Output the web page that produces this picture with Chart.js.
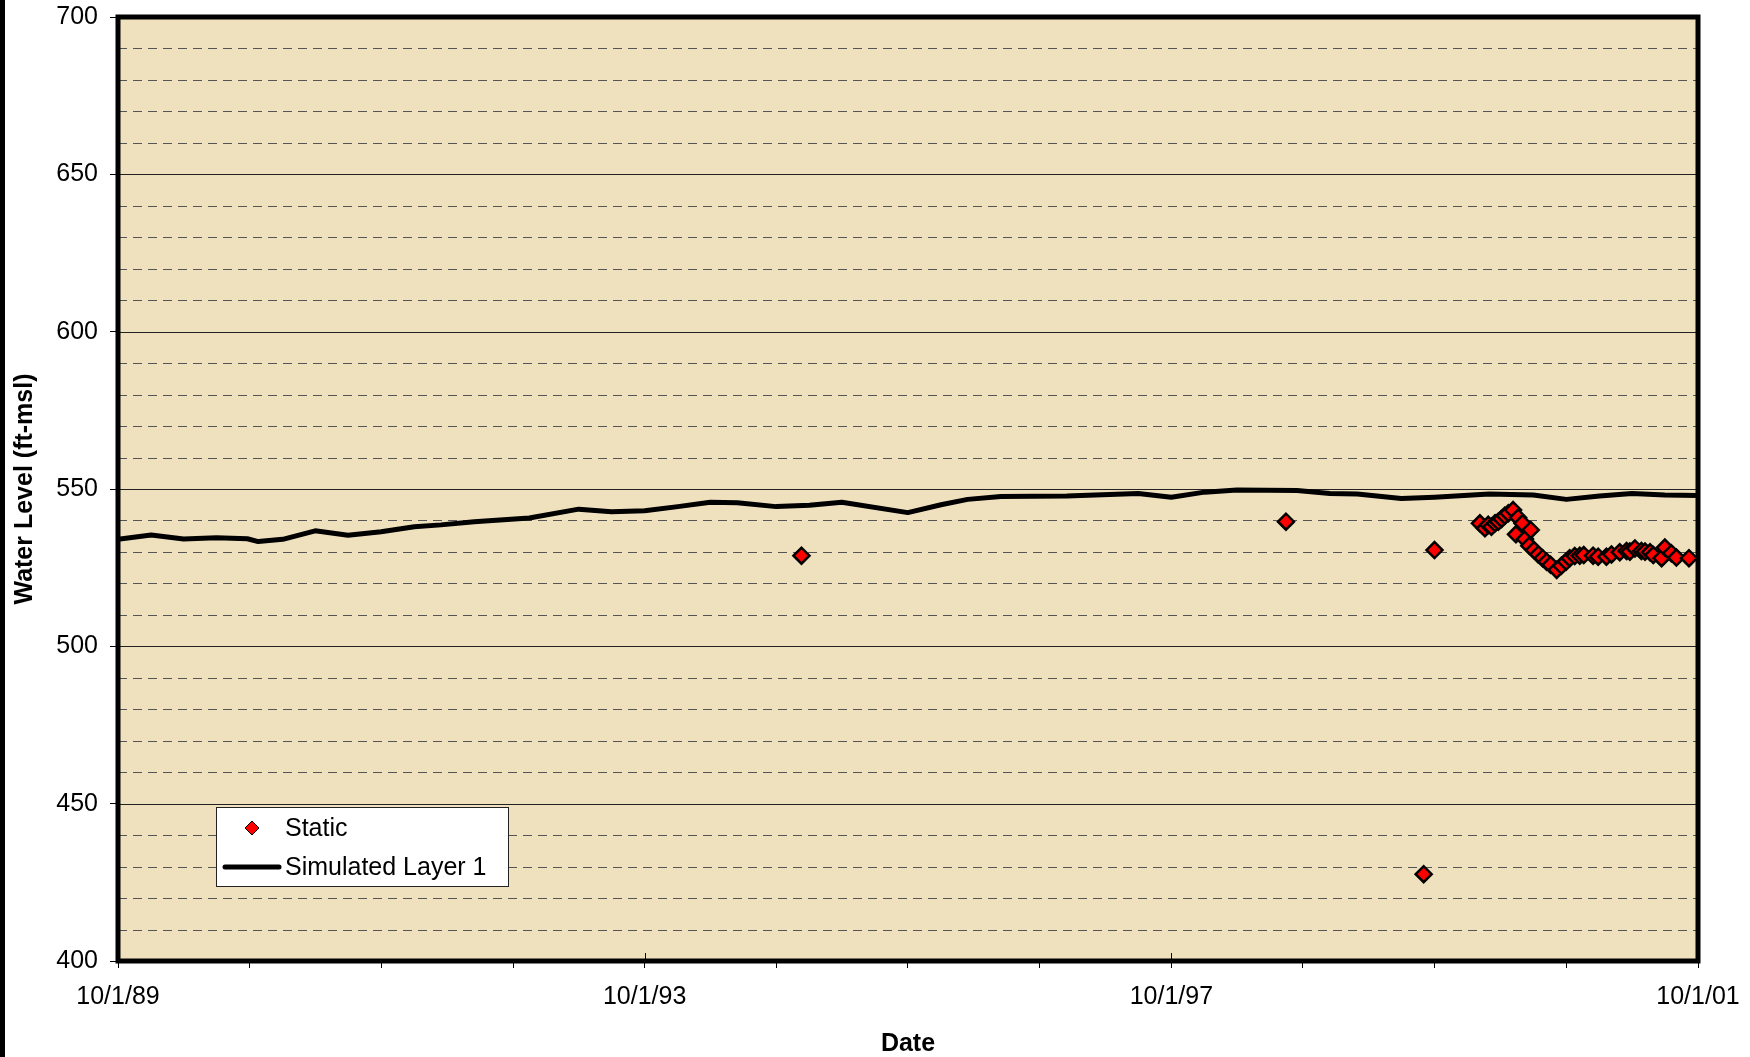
<!DOCTYPE html>
<html>
<head>
<meta charset="utf-8">
<title>Water Level</title>
<script src="https://cdn.jsdelivr.net/npm/chart.js@4.4.1/dist/chart.umd.min.js"></script>
<style>
  html, body { margin: 0; padding: 0; background: #fff; }
  #wrap { width: 1750px; height: 1057px; }
</style>
</head>
<body>
<div id="wrap"><canvas id="myChart" width="1750" height="1057"></canvas></div>
<script>
'use strict';

// DATA - SIMULATED LAYER 1
var simDates = ['1989-10-01', '1990-01-01', '1990-04-01', '1990-07-01', '1990-09-25', '1990-10-25',
  '1991-01-01', '1991-04-01', '1991-07-01', '1991-10-01', '1992-01-01', '1992-03-15', '1992-06-15',
  '1992-11-15', '1993-04-01', '1993-07-01', '1993-10-01', '1994-01-01', '1994-04-01', '1994-06-15',
  '1994-10-01', '1995-01-01', '1995-04-01', '1995-10-01', '1996-01-01', '1996-03-15', '1996-06-15',
  '1996-12-15', '1997-07-01', '1997-10-01', '1998-01-01', '1998-04-01', '1998-09-15', '1998-12-15',
  '1999-03-01', '1999-07-01', '1999-10-01', '2000-03-01', '2000-07-01', '2000-10-01', '2001-01-01',
  '2001-04-01', '2001-07-01', '2001-10-01'];
var simLevels = [534.0, 535.4, 534.1, 534.5, 534.2, 533.3, 534.0, 536.7, 535.3, 536.4, 538.0, 538.6,
  539.6, 540.8, 543.6, 542.8, 543.1, 544.4, 545.8, 545.6, 544.4, 544.8, 545.8, 542.5, 545.0, 546.7,
  547.6, 547.8, 548.6, 547.4, 549.0, 549.7, 549.5, 548.6, 548.4, 547.0, 547.4, 548.4, 548.1, 546.7,
  547.8, 548.6, 548.1, 547.9];

// DATA - STATIC
var staticDates = ['1994-12-10', '1998-08-15', '1999-09-01', '1999-10-01', '2000-02-04', '2000-02-18',
  '2000-02-27', '2000-03-07', '2000-03-17', '2000-03-26', '2000-04-04', '2000-04-13', '2000-04-23',
  '2000-05-06', '2000-05-14', '2000-05-20', '2000-06-01', '2000-06-08', '2000-06-20', '2000-06-24',
  '2000-07-03', '2000-07-15', '2000-07-27', '2000-08-07', '2000-08-18', '2000-09-04', '2000-09-17',
  '2000-09-30', '2000-10-10', '2000-10-24', '2000-11-07', '2000-11-18', '2000-12-14', '2000-12-28',
  '2001-01-20', '2001-02-03', '2001-02-26', '2001-03-17', '2001-03-26', '2001-04-09', '2001-04-27',
  '2001-05-07', '2001-05-21', '2001-05-30', '2001-06-22', '2001-07-01', '2001-07-19', '2001-08-02',
  '2001-09-06'];
var staticLevels = [528.8, 539.6, 427.6, 530.6, 539.1, 537.5, 538.6, 538.0, 539.1, 539.6, 540.5, 541.5,
  542.3, 543.3, 535.6, 540.9, 539.1, 534.1, 532.0, 537.0, 530.6, 529.2, 528.0, 526.9, 525.9, 524.3,
  525.6, 526.9, 528.0, 528.7, 528.8, 529.0, 528.8, 528.5, 528.5, 529.2, 529.9, 530.3, 530.1, 531.1,
  530.3, 530.1, 529.9, 529.0, 528.0, 531.4, 529.6, 528.2, 528.0];

// AXES
var tickYears = [1989, 1990, 1991, 1992, 1993, 1994, 1995, 1996, 1997, 1998, 1999, 2000, 2001];
var yMin = 400;
var yMax = 700;

var FONT = "'Liberation Sans', Arial, sans-serif";

// DATE HELPERS
function dayNum(s) {
  var p = s.split('-');
  return Date.UTC(+p[0], +p[1] - 1, +p[2]) / 86400000;
}
function toPoints(dates, vals) {
  return dates.map(function(d, i) { return {x: dayNum(d), y: vals[i]}; });
}
function shortDate(v) {
  var d = new Date(v * 86400000);
  return (d.getUTCMonth() + 1) + '/' + d.getUTCDate() + '/' + String(d.getUTCFullYear()).slice(2);
}

// BACKGROUND, GRID, BORDER, LEGEND
var paper = {
  id: 'paper',
  beforeDraw: function(chart) {
    var c = chart.ctx, a = chart.chartArea;
    c.save();
    c.fillStyle = '#000';
    c.fillRect(0, 0, 5, chart.height);
    c.fillStyle = '#F0E1BE';
    c.fillRect(a.left, a.top, a.right - a.left, a.bottom - a.top);
    c.restore();
  },
  beforeDatasetsDraw: function(chart) {
    var c = chart.ctx, a = chart.chartArea, y = chart.scales.y;
    c.save();
    c.lineWidth = 1;
    y.ticks.forEach(function(t) {
      if (t.value === yMin || t.value === yMax) return;
      var py = Math.round(y.getPixelForValue(t.value)) + 0.5;
      if (t.value % 50 === 0) {
        c.setLineDash([]);
        c.strokeStyle = '#222';
      } else {
        c.setLineDash([9, 6]);
        c.strokeStyle = '#555';
      }
      c.beginPath();
      c.moveTo(a.left, py);
      c.lineTo(a.right, py);
      c.stroke();
    });
    c.restore();
  },
  afterDatasetsDraw: function(chart) {
    var c = chart.ctx, a = chart.chartArea, x = chart.scales.x;
    c.save();
    // major ticks crossing into the plot
    c.strokeStyle = '#000';
    c.lineWidth = 1;
    x.ticks.forEach(function(t, i) {
      if (i % 4 !== 0) return;
      var px = Math.round(x.getPixelForValue(t.value)) + 0.5;
      c.beginPath();
      c.moveTo(px, a.bottom);
      c.lineTo(px, a.bottom - 8);
      c.stroke();
    });
    // plot border
    c.lineWidth = 5;
    c.strokeRect(a.left, a.top, a.right - a.left, a.bottom - a.top);
    c.restore();
  },
  afterDraw: function(chart) {
    var c = chart.ctx, a = chart.chartArea;
    var ds = chart.data.datasets;
    var lx = a.left + 98, ly = a.top + 790, lw = 292, lh = 79;
    c.save();
    c.fillStyle = '#fff';
    c.fillRect(lx, ly, lw, lh);
    c.strokeStyle = '#222';
    c.lineWidth = 1;
    c.strokeRect(lx + 0.5, ly + 0.5, lw, lh);

    // Static
    c.fillStyle = ds[0].pointBackgroundColor;
    c.strokeStyle = ds[0].pointBorderColor;
    Chart.helpers.drawPoint(c, {pointStyle: ds[0].pointStyle, radius: 7, borderWidth: 2, rotation: 0}, lx + 36, ly + 21);

    // Simulated
    c.strokeStyle = ds[1].borderColor;
    c.lineWidth = ds[1].borderWidth;
    c.lineCap = 'round';
    c.beginPath();
    c.moveTo(lx + 9, ly + 60);
    c.lineTo(lx + 63, ly + 60);
    c.stroke();

    c.fillStyle = '#000';
    c.font = '25px ' + FONT;
    c.textBaseline = 'middle';
    c.textAlign = 'left';
    c.fillText(ds[0].label, lx + 69, ly + 22);
    c.fillText(ds[1].label, lx + 69, ly + 61);
    c.restore();
  }
};

// WYKRES
var ctx = document.getElementById('myChart').getContext('2d');

var chart = new Chart(ctx, {
  type: 'line',
  data: {
    datasets: [{
      label: 'Static',
      data: toPoints(staticDates, staticLevels),
      showLine: false,
      pointStyle: 'rectRot',
      pointRadius: 8,
      pointBackgroundColor: '#FF0000',
      pointBorderColor: '#000000',
      pointBorderWidth: 2.5,
      backgroundColor: '#FF0000',
      borderColor: '#000000'
    },
    {
      label: 'Simulated Layer 1',
      data: toPoints(simDates, simLevels),
      borderColor: '#000000',
      backgroundColor: '#000000',
      borderWidth: 5,
      pointRadius: 0,
      tension: 0,
      borderJoinStyle: 'round',
      borderCapStyle: 'round'
    }]
  },
  options: {
    responsive: false,
    animation: false,
    layout: { padding: { left: 11, top: 17, right: 52, bottom: 0 } },
    plugins: {
      legend: { display: false },
      tooltip: { enabled: false }
    },
    scales: {
      x: {
        type: 'linear',
        min: dayNum('1989-10-01'),
        max: dayNum('2001-10-01'),
        afterBuildTicks: function(s) {
          s.ticks = tickYears.map(function(y) { return {value: dayNum(y + '-10-01')}; });
        },
        afterFit: function(s) {
          s.height = 96;
          s.paddingLeft = 0;
          s.paddingRight = 0;
        },
        ticks: {
          autoSkip: false,
          maxRotation: 0,
          padding: 14,
          color: '#000',
          font: { family: FONT, size: 25 },
          callback: function(v, i) { return i % 4 === 0 ? shortDate(v) : ''; }
        },
        grid: { drawOnChartArea: false, tickLength: 7, tickWidth: 1, tickColor: '#000' },
        border: { display: false },
        title: {
          display: true,
          text: 'Date',
          color: '#000',
          padding: 0,
          font: { family: FONT, size: 25, weight: 'bold', lineHeight: 1.0 }
        }
      },
      y: {
        min: yMin,
        max: yMax,
        afterBuildTicks: function(s) {
          var t = [];
          for (var v = yMin; v <= yMax; v += 10) t.push({value: v});
          s.ticks = t;
        },
        afterFit: function(s) {
          s.width = 107;
          s.paddingTop = 0;
          s.paddingBottom = 0;
        },
        ticks: {
          autoSkip: false,
          padding: 12,
          color: '#000',
          font: { family: FONT, size: 25 },
          callback: function(v) { return v % 50 === 0 ? v : ''; }
        },
        grid: {
          drawOnChartArea: false,
          tickLength: 8,
          tickWidth: 1,
          tickColor: function(c) {
            return c.tick && c.tick.value % 50 === 0 ? '#000' : 'rgba(0,0,0,0)';
          }
        },
        border: { display: false },
        title: {
          display: true,
          text: 'Water Level (ft-msl)',
          color: '#000',
          padding: 0,
          font: { family: FONT, size: 25, weight: 'bold', lineHeight: 1.1 }
        }
      }
    }
  },
  plugins: [paper]
});
</script>
</body>
</html>
